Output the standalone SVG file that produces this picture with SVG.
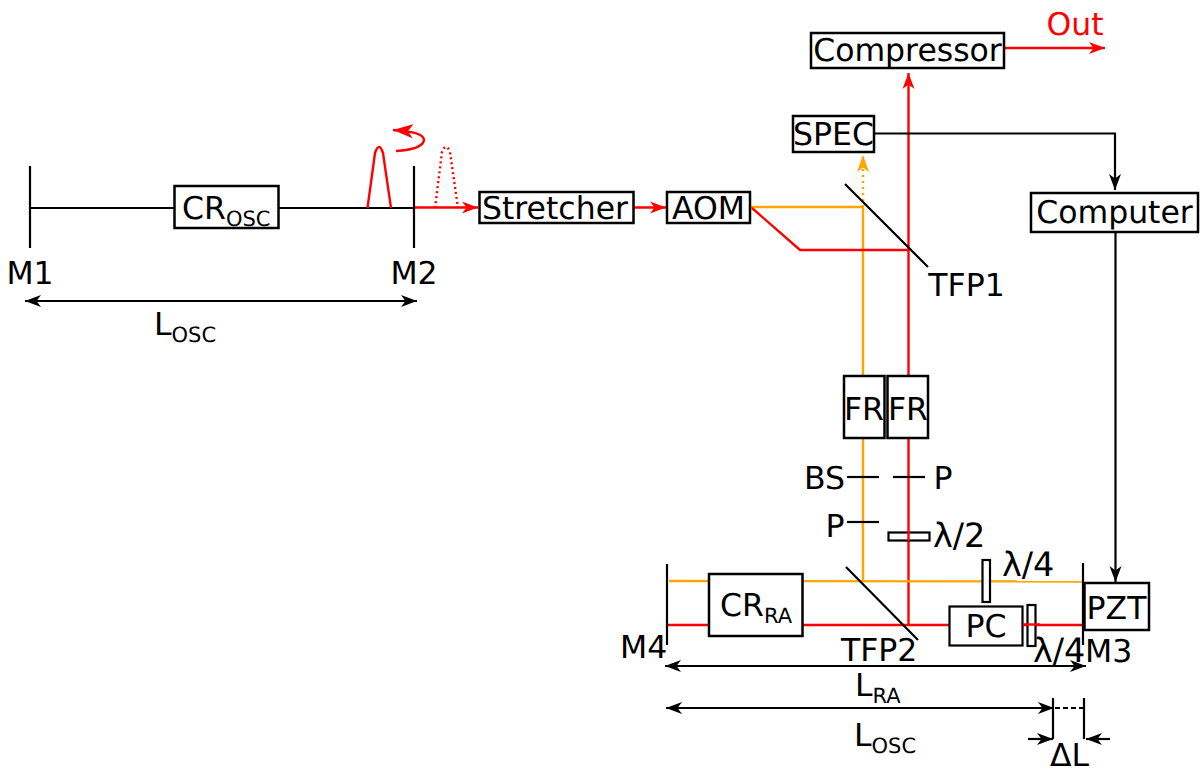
<svg xmlns="http://www.w3.org/2000/svg" width="1200" height="769" viewBox="0 0 1200 769">
<style>
text{font-family:"DejaVu Sans",sans-serif;font-size:31.500px;fill:#000;text-rendering:geometricPrecision}
.c{text-anchor:middle}
.sub{font-size:21px}
.la{font-size:33.500px}
.b{fill:#fff;stroke:#000;stroke-width:2.200}
.n{fill:#fff;stroke:#000;stroke-width:2.500}
.k{fill:none;stroke:#000;stroke-width:2.200}
.r{fill:none;stroke:#f00;stroke-width:2.400}
.o{fill:none;stroke:#ffa500;stroke-width:2.400}
</style>
<defs>
<marker id="ak" markerUnits="userSpaceOnUse" markerWidth="18" markerHeight="14" refX="16" refY="7" orient="auto-start-reverse"><path d="M0 1L16 7L0 13L4.500 7Z" fill="#000"/></marker>
<marker id="ar" markerUnits="userSpaceOnUse" markerWidth="18" markerHeight="14" refX="16" refY="7" orient="auto-start-reverse"><path d="M0 1L16 7L0 13L4.500 7Z" fill="#f00"/></marker>
<marker id="ar2" markerUnits="userSpaceOnUse" markerWidth="22" markerHeight="16" refX="20" refY="8" orient="auto"><path d="M0 1L20 8L0 15L5 8Z" fill="#f00"/></marker>
<marker id="ao" markerUnits="userSpaceOnUse" markerWidth="18" markerHeight="18" refX="17" refY="9" orient="auto"><path d="M0 3L17 9L0 15L4.500 9Z" fill="#ffa500"/></marker>
</defs>
<g id="connectors">
<path class="k" d="M30 208H174M278 208H414"/>
<path class="r" d="M415 207.500H478" marker-end="url(#ar)"/>
<path class="r" d="M633 207.500H666" marker-end="url(#ar)"/>
<path class="r" d="M367.500 208L375 153Q379 141 383 153L391 208"/>
<path class="r" stroke-dasharray="2 3" d="M435 208L442 152Q446 142 450 152L458 208"/>
<path class="r" d="M396 151C412 150 423 147 424 140C424 134 410 131 393 130" marker-end="url(#ar2)"/>
<path class="o" d="M751 207H863V581"/>
<path class="o" stroke-dasharray="2 4" d="M863 207V155" marker-end="url(#ao)"/>
<path class="r" d="M752 208L800 250H908"/>
<path class="r" d="M908.500 625V73" marker-end="url(#ar)"/>
<path class="r" d="M1004 48H1105" marker-end="url(#ar)"/>
<path class="k" d="M874 133.500H1115V190" marker-end="url(#ak)"/>
<path class="k" d="M1115.500 232V582" marker-end="url(#ak)"/>
<path class="o" d="M669 581L1083 581.500"/>
<path class="r" d="M668 625H1083"/>
<path class="k" d="M25 301H417" marker-start="url(#ak)" marker-end="url(#ak)"/>
<path class="k" d="M665 666H1086" marker-start="url(#ak)" marker-end="url(#ak)"/>
<path class="k" d="M666 708H1054" marker-start="url(#ak)" marker-end="url(#ak)"/>
<path class="k" stroke-dasharray="5 3" d="M1055 708H1084"/>
<path class="k" d="M1028 739H1053" marker-end="url(#ak)"/>
<path class="k" d="M1110 739H1086" marker-end="url(#ak)"/>
</g>
<g id="M1"><path class="k" d="M30 166V248"/><text x="30" y="284" class="c">M1</text></g>
<g id="M2"><path class="k" d="M414 166V248"/><text x="414" y="284" class="c">M2</text></g>
<g id="CROSC"><rect class="n" x="174.500" y="186" width="104" height="42"/><text x="182" y="219">CR<tspan class="sub" dy="7">OSC</tspan></text></g>
<g id="LOSC1"><text x="154" y="335">L<tspan class="sub" dy="7">OSC</tspan></text></g>
<g id="Stretcher"><rect class="n" x="479.500" y="192" width="154" height="31"/><text x="555" y="219" class="c">Stretcher</text></g>
<g id="AOM"><rect class="n" x="667" y="192" width="83" height="31"/><text x="708.500" y="219" class="c">AOM</text></g>
<g id="Compressor"><rect class="n" x="811" y="33" width="193" height="35"/><text x="907.500" y="61" class="c">Compressor</text></g>
<g id="Out"><text x="1075" y="35" class="c" style="fill:#f00">Out</text></g>
<g id="SPEC"><rect class="n" x="793" y="116" width="81" height="36"/><text x="833.500" y="145" class="c">SPEC</text></g>
<g id="TFP1"><path class="k" d="M845 184L928 267"/><text x="966.500" y="296" class="c">TFP1</text></g>
<g id="Computer"><rect class="n" x="1031" y="193" width="167" height="39"/><text x="1114.500" y="223" class="c">Computer</text></g>
<g id="FR1"><rect class="n" x="844" y="376" width="40.500" height="62"/><text x="864" y="420" class="c">FR</text></g>
<g id="FR2"><rect class="n" x="887.500" y="376" width="40.500" height="62"/><text x="908" y="420" class="c">FR</text></g>
<g id="BS"><path class="k" d="M847 477H879"/><text x="804" y="489">BS</text></g>
<g id="P1"><path class="k" d="M893 477H925"/><text x="943" y="489" class="c">P</text></g>
<g id="P2"><path class="k" d="M847 522H879"/><text x="835" y="537" class="c">P</text></g>
<g id="HWP"><rect class="b" x="888.500" y="532.500" width="41" height="8"/><path class="r" d="M908.500 531V541"/><text class="la" x="933" y="547">λ/2</text></g>
<g id="QWP1"><rect class="b" x="982.500" y="560" width="7.500" height="42"/><text class="la" x="1002" y="576">λ/4</text></g>
<g id="M4"><path class="k" d="M667 564V645"/><text x="620" y="658">M4</text></g>
<g id="CRRA"><rect class="n" x="709" y="574" width="93.500" height="62"/><text x="720" y="616">CR<tspan class="sub" dy="7">RA</tspan></text></g>
<g id="TFP2"><path class="k" d="M846 567L918 640"/><text x="841" y="661">TFP2</text></g>
<g id="PC"><rect class="b" x="949.500" y="606.500" width="73" height="39"/><text x="986" y="637" class="c">PC</text></g>
<g id="QWP2"><rect class="b" x="1027.500" y="605" width="8" height="41"/><path class="r" d="M1023 624.500H1040"/><text class="la" x="1033" y="662">λ/4</text></g>
<g id="M3"><path class="k" d="M1083 563V645"/><text x="1085" y="662">M3</text></g>
<g id="PZT"><rect class="n" x="1084.500" y="583" width="64.500" height="47"/><text x="1116.500" y="619" class="c">PZT</text></g>
<g id="LRA"><text x="855" y="696">L<tspan class="sub" dy="7">RA</tspan></text></g>
<g id="LOSC2"><text x="854" y="746">L<tspan class="sub" dy="7">OSC</tspan></text></g>
<g id="DL"><path class="k" d="M1053 698V739M1084 698V739"/><text x="1050" y="766">ΔL</text></g>
</svg>
